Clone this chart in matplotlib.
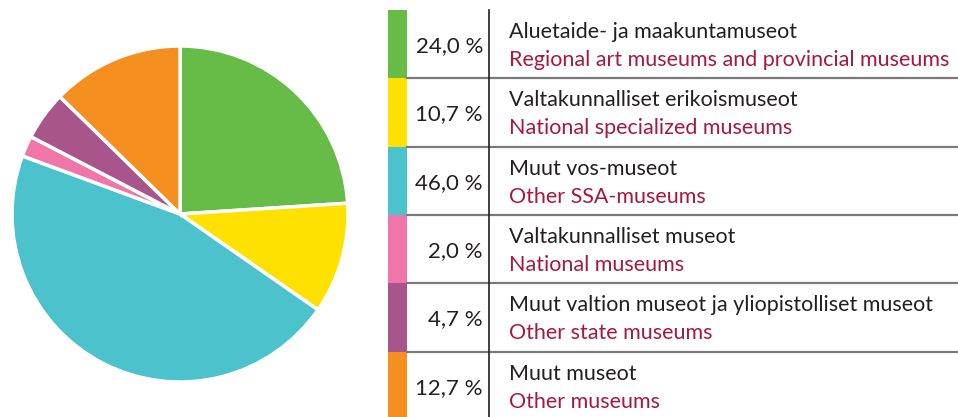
import matplotlib
matplotlib.use("Agg")
import matplotlib.pyplot as plt
from matplotlib.patches import Rectangle

shares = [24.0, 10.7, 46.0, 2.0, 4.7, 12.7]
labels_fi = ["Aluetaide- ja maakuntamuseot", "Valtakunnalliset erikoismuseot",
             "Muut vos-museot", "Valtakunnalliset museot",
             "Muut valtion museot ja yliopistolliset museot", "Muut museot"]
labels_en = ["Regional art museums and provincial museums", "National specialized museums",
             "Other SSA-museums", "National museums", "Other state museums", "Other museums"]
colors = ["#67BC48", "#FFE100", "#4CC3CC", "#F075A8", "#A8558C", "#F58F20"]

W, H = 958, 417
fig = plt.figure(figsize=(W / 100, H / 100), dpi=100)
plt.rcParams['font.family'] = ['Lato', 'DejaVu Sans']

# pie
cx, cy, r = 180, 214, 168
pax = fig.add_axes([(cx - r) / W, (H - cy - r) / H, 2 * r / W, 2 * r / H])
pax.pie(shares, colors=colors, startangle=90, counterclock=False,
        wedgeprops=dict(edgecolor="white", linewidth=2.5))
pax.set_xlim(-1, 1)
pax.set_ylim(-1, 1)
pax.set_aspect("equal")
pax.axis("off")

# table
tax = fig.add_axes([0, 0, 1, 1])
tax.set_xlim(0, W)
tax.set_ylim(H, 0)
tax.axis("off")

top = 10
row_h = 68.3
strip_x0, strip_x1 = 388, 407
vline_x = 489
for i, (s, fi, en, c) in enumerate(zip(shares, labels_fi, labels_en, colors)):
    y0 = top + i * row_h
    tax.add_patch(Rectangle((strip_x0, y0), strip_x1 - strip_x0, row_h, color=c, lw=0))
    if i > 0:
        tax.plot([strip_x1, W], [y0, y0], color="#7a7a7a", lw=1.6)
    tax.text(483, y0 + row_h / 2 + 2, f"{s:.1f} %".replace(".", ","), ha="right", va="center",
             fontsize=16, color="#231F20")
    tax.text(509, y0 + 22, fi, ha="left", va="center", fontsize=15.5, color="#231F20")
    tax.text(509, y0 + 50, en, ha="left", va="center", fontsize=15.5, color="#A6193E")
tax.plot([vline_x, vline_x], [top, H], color="#231F20", lw=1.2)

fig.savefig("out.png", dpi=100)
